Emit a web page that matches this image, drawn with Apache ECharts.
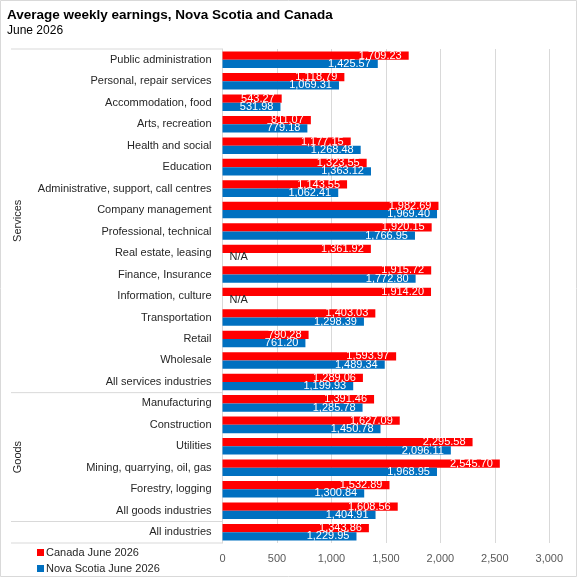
<!DOCTYPE html>
<html><head><meta charset="utf-8">
<script src="https://cdn.jsdelivr.net/npm/echarts@6/dist/echarts.min.js"></script>
<style>html,body{margin:0;padding:0;background:#fff}#c{width:577px;height:577px}</style>
</head><body><div id="c"></div>
<script>
const categories = ["Public administration","Personal, repair services","Accommodation, food","Arts, recreation","Health and social","Education","Administrative, support, call centres","Company management","Professional, technical","Real estate, leasing","Finance, Insurance","Information, culture","Transportation","Retail","Wholesale","All services industries","Manufacturing","Construction","Utilities","Mining, quarrying, oil, gas","Forestry, logging","All goods industries","All industries"];
const canadaValues = [1709.23,1118.79,543.27,811.07,1177.15,1323.55,1143.55,1982.69,1920.15,1361.92,1915.72,1914.20,1403.03,790.28,1593.97,1289.06,1391.46,1627.09,2295.58,2545.70,1532.89,1608.56,1343.86];
const novaScotiaValues = [1425.57,1069.31,531.98,779.18,1268.48,1363.12,1062.41,1969.40,1766.95,null,1772.80,null,1298.39,761.20,1489.34,1199.93,1285.78,1450.78,2096.11,1968.95,1300.84,1404.91,1229.95];
const groups = [{name:"Services", from:0, to:15},{name:"Goods", from:16, to:21},{name:"", from:22, to:22}];
const xTicks = [0,500,1000,1500,2000,2500,3000];
const seriesNames = ["Canada June 2026","Nova Scotia June 2026"];

const FONT = "Liberation Sans";
const fmt = v => v.toLocaleString('en-US',{minimumFractionDigits:2,maximumFractionDigits:2});
const chart = echarts.init(document.getElementById('c'));
const lbl = {show:true, position:'insideRight', distance:7, color:'#fff', fontSize:11, fontFamily:FONT, formatter:p=>fmt(p.value)};
const nsData = novaScotiaValues.map(v => v===null ? {value:0, label:{show:true, position:'right', distance:7, color:'#262626', formatter:'N/A'}} : v);
chart.setOption({
  animation:false,
  textStyle:{fontFamily:FONT},
  title:[{text:"Average weekly earnings, Nova Scotia and Canada", left:2, top:3, textStyle:{fontSize:13.5, fontWeight:'bold', color:'#000', fontFamily:FONT}},
         {text:"June 2026", left:2, top:20, textStyle:{fontSize:12, fontWeight:'normal', color:'#000', fontFamily:FONT}}],
  legend:{orient:'vertical', left:32, top:541, height:40, itemWidth:7, itemHeight:7, itemGap:3, icon:'rect',
    textStyle:{fontSize:11, lineHeight:13, color:'#262626', fontFamily:FONT, padding:[0,0,0,-3]}, data:seriesNames},
  grid:{left:222.5, right:27.7, top:49, bottom:34, containLabel:false},
  xAxis:{type:'value', min:xTicks[0], max:xTicks[xTicks.length-1], interval:xTicks[1]-xTicks[0],
    axisLine:{show:false}, axisTick:{show:false},
    splitLine:{lineStyle:{color:'#d9d9d9', width:1}},
    axisLabel:{color:'#595959', fontSize:11, margin:10, formatter:v=>v.toLocaleString('en-US')}},
  yAxis:{type:'category', inverse:true, data:categories,
    axisLine:{lineStyle:{color:'#d9d9d9'}}, axisTick:{show:false},
    axisLabel:{color:'#262626', fontSize:11, margin:11}},
  series:[
    {name:seriesNames[0], type:'bar', data:canadaValues, itemStyle:{color:'#ff0000'}, barGap:'0%', barCategoryGap:'23%', label:lbl},
    {name:seriesNames[1], type:'bar', data:nsData, itemStyle:{color:'#0070c0'}, barGap:'0%', barCategoryGap:'23%', label:lbl}
  ]
});
// group separators and group names, placed from the category axis scale
const y0 = chart.convertToPixel({yAxisIndex:0}, categories[0]);
const y1 = chart.convertToPixel({yAxisIndex:0}, categories[1]);
const band = y1 - y0;
const xAxisPx = chart.convertToPixel({xAxisIndex:0}, 0);
const g = [];
const edges = [0];
groups.forEach(gr => edges.push(gr.to+1));
edges.forEach(i => {
  const y = y0 + (i - 0.5) * band;
  g.push({type:'line', shape:{x1:11, y1:y, x2:xAxisPx, y2:y}, style:{stroke:'#d9d9d9', lineWidth:1}, silent:true});
});
groups.forEach(gr => {
  if (!gr.name) return;
  const yc = y0 + ((gr.from + gr.to) / 2) * band;
  g.push({type:'text', x:18, y:yc, rotation:Math.PI/2, style:{text:gr.name, fontSize:11, fill:'#262626', fontFamily:FONT, align:'center', verticalAlign:'middle'}, silent:true});
});
g.push({type:'rect', shape:{x:0.5, y:0.5, width:576, height:576}, style:{fill:'none', stroke:'#d9d9d9', lineWidth:1}, silent:true});
chart.setOption({graphic:g});
</script></body></html>
